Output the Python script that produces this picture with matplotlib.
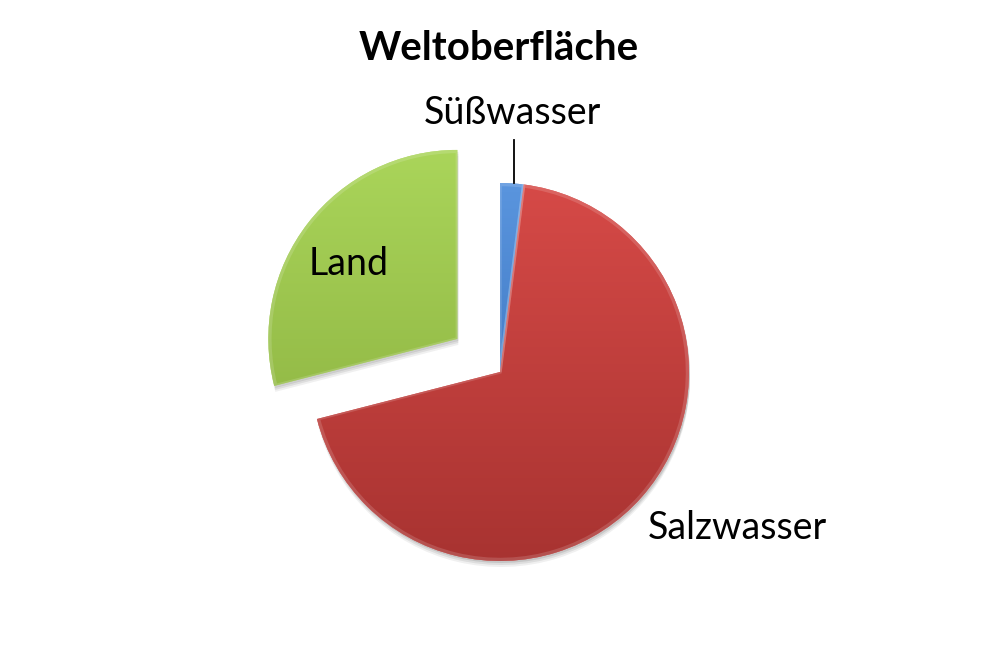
import matplotlib
matplotlib.use("Agg")
import matplotlib.pyplot as plt
import numpy as np
from matplotlib.colors import LinearSegmentedColormap
from matplotlib.patches import Wedge

categories = ["Süßwasser", "Salzwasser", "Land"]
shares = [2, 69, 29]
title = "Weltoberfläche"

top_colors = ["#5a95de", "#d64a47", "#aad55a"]
bottom_colors = ["#2e66b2", "#a83331", "#88ad3d"]

plt.rcParams["font.family"] = ["Lato", "DejaVu Sans"]

fig = plt.figure(figsize=(10.02, 6.69), dpi=100)
ax = fig.add_axes([0, 0, 1, 1])

# pixel-like data units: center and radius of the pie
cx, cy, r = 500, 297, 189
explode = [0, 0, 54]

wedges, _ = ax.pie(
    shares,
    center=(cx, cy),
    radius=r,
    startangle=90,
    counterclock=False,
    explode=explode,
    colors=top_colors,
    wedgeprops=dict(linewidth=0),
)

# soft drop shadows
for w in wedges:
    for k, a in zip([6, 4, 2], [0.06, 0.08, 0.1]):
        s = Wedge(
            (w.center[0] + 1, w.center[1] - k), w.r, w.theta1, w.theta2,
            facecolor="black", alpha=a, linewidth=0, zorder=0.5,
        )
        ax.add_patch(s)

# vertical gradient fill clipped to each wedge
for w, c_top, c_bot in zip(wedges, top_colors, bottom_colors):
    w.set_zorder(1)
    cmap = LinearSegmentedColormap.from_list("g", [c_bot, c_top])
    grad = np.linspace(0, 1, 256).reshape(-1, 1)
    x0, y0 = w.center
    im = ax.imshow(
        grad, cmap=cmap, origin="lower", aspect="auto",
        extent=[x0 - r, x0 + r, y0 - r, y0 + r], zorder=1.5,
        interpolation="bicubic",
    )
    im.set_clip_path(w)
    # bevel rim
    edge = Wedge(
        w.center, w.r - 1.5, w.theta1, w.theta2,
        facecolor="none", edgecolor="white", alpha=0.15, linewidth=2.5, zorder=2,
    )
    ax.add_patch(edge)

# labels
blue = wedges[0]
mid = np.deg2rad((blue.theta1 + blue.theta2) / 2)
bx, by = blue.center[0] + r * np.cos(mid), blue.center[1] + r * np.sin(mid)
ax.plot([bx + 2, bx + 2], [by, by + 43], color="black", linewidth=1.3, zorder=3)
ax.text(512, 556, categories[0], ha="center", va="center", fontsize=27)
ax.text(349, 405, categories[2], ha="center", va="center", fontsize=27)
ax.text(737, 141, categories[1], ha="center", va="center", fontsize=27)
ax.text(499, 621, title, ha="center", va="center", fontsize=29, fontweight="bold")

ax.set_xlim(0, 1002)
ax.set_ylim(0, 669)
ax.set_aspect("equal")
ax.axis("off")

fig.savefig("out.png", dpi=100)
